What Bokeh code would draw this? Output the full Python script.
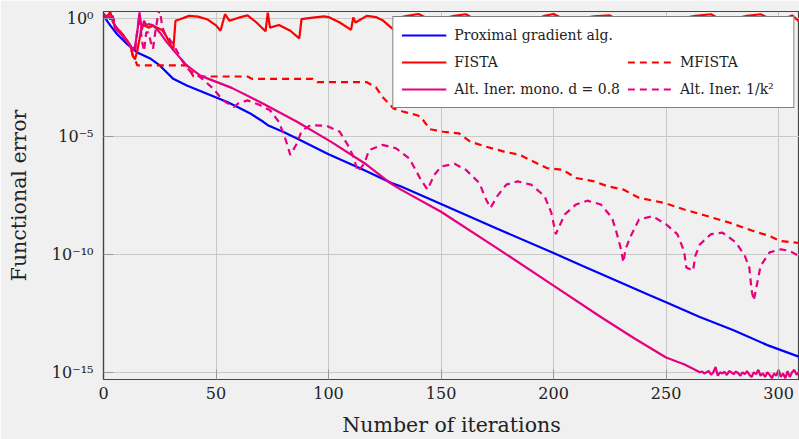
from bokeh.plotting import figure
from bokeh.models import (Range1d, FixedTicker, CustomJSTickFormatter, Legend, LegendItem)
from bokeh.embed import file_html
from bokeh.resources import INLINE

# ---------------- data ----------------
iters_prox = [0, 3, 6, 10, 15, 21, 25, 31, 37, 46, 55, 60, 65, 71, 73, 80, 86, 100, 115, 128, 132,
              150, 175, 200, 213, 228, 243, 250, 265, 280, 295, 309]
err_prox = [1.26, 0.5, 0.214, 0.089, 0.0355, 0.019, 0.01, 2.7e-3, 1.41e-3, 6.3e-4, 2.8e-4, 1.66e-4,
            9.5e-5, 4.1e-5, 2.95e-5, 1.51e-5, 8.1e-6, 1.74e-6, 4.0e-7, 1.05e-7, 7.6e-8, 1.35e-8,
            1.2e-9, 1.12e-10, 3.2e-11, 7.6e-12, 1.78e-12, 9.3e-13, 2.2e-13, 6.0e-14, 1.41e-14, 4.6e-15]

iters_fista = [0, 1, 2, 3, 4, 5, 7, 9, 12, 13, 14, 15, 16, 17, 18, 20, 22, 26, 28, 31, 32, 34, 38,
               42, 46, 50, 52, 54, 56, 61, 64, 68, 72, 73, 74, 78, 83, 87, 88, 93, 98, 100, 105,
               110, 111, 112, 117, 121, 124, 129, 130, 135, 140, 146, 150, 151, 156, 161, 167, 172,
               173, 180, 186, 190, 191, 196, 200, 206, 211, 212, 218, 225, 231, 236, 237, 245, 252,
               256, 257, 263, 270, 275, 280, 281, 286, 292, 298, 302, 303, 306, 309]
err_fista = [1.58, 1.0, 1.26, 1.9, 0.79, 0.5, 0.295, 0.18, 0.069, 0.026, 0.018, 0.042, 0.13, 0.45,
             0.5, 0.4, 0.48, 0.32, 0.166, 0.045, 0.78, 0.91, 1.26, 1.17, 0.91, 0.5, 0.295, 1.48,
             0.78, 1.12, 1.32, 0.66, 0.28, 1.74, 0.4, 0.52, 0.295, 0.141, 0.91, 1.07, 1.2, 1.12,
             0.66, 0.32, 1.07, 0.66, 1.26, 1.12, 0.83, 0.32, 1.0, 1.26, 1.51, 0.79, 0.25, 1.0, 1.26,
             1.48, 0.71, 0.28, 1.0, 1.12, 0.5, 0.2, 0.79, 1.26, 1.51, 0.79, 0.25, 1.0, 1.2, 1.32,
             0.63, 0.22, 1.0, 1.12, 0.5, 0.2, 1.0, 1.26, 1.48, 0.79, 0.25, 1.0, 1.26, 1.48, 0.79,
             0.32, 1.0, 1.32, 0.76]

iters_mfista = [0, 1, 4, 5, 7, 9, 12, 13, 14, 15, 37, 40, 64, 66, 93, 95, 117, 121, 124, 129, 133,
                139, 141, 145, 151, 158, 163, 170, 178, 185, 191, 197, 204, 210, 218, 224, 231, 238,
                249, 258, 267, 278, 289, 296, 301, 309]
err_mfista = [1.58, 1.0, 0.79, 0.5, 0.295, 0.18, 0.069, 0.026, 0.018, 0.01, 0.01, 3.4e-3, 3.4e-3,
              2.7e-3, 2.7e-3, 1.95e-3, 1.95e-3, 1.2e-3, 4.6e-4, 1.48e-4, 1.12e-4, 7.9e-5, 6.6e-5,
              2.0e-5, 1.55e-5, 1.32e-5, 5.9e-6, 3.6e-6, 2.24e-6, 1.62e-6, 8.5e-7, 4.5e-7, 3.8e-7,
              1.7e-7, 1.23e-7, 7.6e-8, 5.5e-8, 2.45e-8, 1.51e-8, 7.9e-9, 4.5e-9, 2.2e-9, 9.5e-10,
              5.9e-10, 3.6e-10, 3.0e-10]

iters_mono = [0, 1, 2, 3, 4, 5, 8, 11, 13, 14, 15, 16, 17, 18, 19, 20, 22, 25, 28, 32, 37, 43, 57,
              71, 86, 101, 116, 127, 132, 150, 175, 200, 221, 236, 250, 255, 258, 262, 265, 266,
              267, 268, 269, 270, 271, 272, 273, 274, 275, 276, 277, 278, 279, 280, 281, 282, 283,
              284, 285, 286, 287, 288, 289, 290, 291, 292, 293, 294, 295, 296, 297, 298, 299, 300,
              301, 302, 303, 304, 305, 306, 307, 308, 309]
err_mono = [1.58, 1.12, 1.41, 0.89, 1.26, 0.4, 0.2, 0.089, 0.05, 0.063, 0.25, 1.78, 0.32, 0.79, 0.5,
            0.56, 0.5, 0.25, 0.1, 0.035, 0.01, 3.7e-3, 1.12e-3, 2.4e-4, 4.1e-5, 5.9e-6, 7.2e-7,
            1.1e-7, 5.6e-8, 6.3e-9, 1.78e-10, 4.7e-12, 2.2e-13, 2.7e-14, 4.2e-15, 2.8e-15, 2.2e-15,
            1.41e-15, 1.0e-15, 1.07e-15, 8.9e-16, 1.0e-15, 1.12e-15, 7.9e-16, 1.0e-15, 1.66e-15,
            7.1e-16, 1.0e-15, 8.9e-16, 1.05e-15, 7.6e-16, 1.12e-15, 1.0e-15, 8.3e-16, 1.07e-15,
            9.3e-16, 7.1e-16, 1.0e-15, 8.3e-16, 1.12e-15, 7.9e-16, 6.3e-16, 1.0e-15, 8.3e-16,
            1.26e-15, 7.1e-16, 8.9e-16, 6.3e-16, 1.0e-15, 7.9e-16, 5.6e-16, 8.9e-16, 7.1e-16,
            1.26e-15, 6.3e-16, 8.9e-16, 5.6e-16, 1.12e-15, 6.3e-16, 1.0e-15, 1.26e-15, 7.9e-16,
            1.0e-15]

iters_k2 = [0, 2, 4, 6, 9, 12, 14, 15, 16, 17, 18, 19, 20, 21, 22, 23, 24, 25, 26, 27, 31, 35, 38,
            43, 49, 53, 58, 60, 64, 69, 74, 78, 81, 83, 86, 88, 92, 99, 105, 109, 111, 113, 116,
            118, 124, 130, 136, 141, 144, 147, 150, 156, 161, 167, 170, 172, 175, 179, 184, 190,
            196, 199, 201, 203, 205, 210, 215, 221, 226, 228, 230, 231, 232, 234, 238, 244, 250,
            255, 258, 259, 262, 263, 265, 270, 275, 281, 285, 287, 288, 289, 290, 292, 296, 301,
            305, 309]
err_k2 = [1.58, 0.89, 1.26, 0.32, 0.16, 0.063, 0.035, 0.32, 1.26, 0.126, 0.04, 0.25, 0.25, 0.1,
          0.05, 0.25, 1.0, 2.5, 0.5, 0.25, 0.079, 0.0158, 6.3e-3, 3.2e-3, 1.0e-3, 3.3e-4, 1.74e-4,
          2.5e-4, 3.3e-4, 2.2e-4, 1.26e-4, 4.0e-5, 6.9e-6, 1.62e-6, 5.0e-6, 1.66e-5, 2.95e-5,
          2.8e-5, 1.55e-5, 3.6e-6, 1.38e-6, 3.2e-7, 7.2e-7, 2.6e-6, 4.3e-6, 3.1e-6, 1.12e-6,
          1.45e-7, 5.5e-8, 2.3e-7, 5.2e-7, 6.8e-7, 3.8e-7, 1.05e-7, 2.1e-8, 9.3e-9, 2.9e-8, 8.9e-8,
          1.23e-7, 8.9e-8, 2.9e-8, 5.8e-9, 7.1e-10, 1.86e-9, 4.9e-9, 1.29e-8, 1.86e-8, 1.29e-8,
          3.5e-9, 8.3e-10, 1.62e-10, 4.5e-11, 1.62e-10, 5.1e-10, 3.0e-9, 4.1e-9, 1.86e-9, 7.1e-10,
          1.38e-10, 2.75e-11, 2.0e-11, 8.5e-11, 2.6e-10, 7.1e-10, 8.3e-10, 3.2e-10, 8.5e-11,
          2.75e-11, 3.0e-12, 1.1e-12, 3.4e-12, 3.2e-11, 1.2e-10, 1.62e-10, 1.38e-10, 8.5e-11]

x_ticks = [0, 50, 100, 150, 200, 250, 300]
y_ticks = [1e-15, 1e-10, 1e-5, 1.0]

labels = ["Proximal gradient alg.", "FISTA", "MFISTA",
          "Alt. Iner. mono. d = 0.8", "Alt. Iner. 1/k\u00b2"]

# ---------------- styling ----------------
BG = "#f0f0f0"
FONT = "DejaVu Serif"
BLUE, RED, MAG = "#0000ff", "#ff0000", "#e6007e"
AXC = "#444444"

p = figure(width=799, height=439, y_axis_type="log",
           x_range=Range1d(0, 309.3), y_range=Range1d(4.93e-16, 1.93),
           output_backend="svg", toolbar_location=None,
           min_border_left=103, min_border_right=0, min_border_top=11, min_border_bottom=58,
           background_fill_color=BG, border_fill_color=BG)
p.outline_line_color = AXC
p.outline_line_width = 1.2

sup_js = """
const e = Math.round(Math.log10(tick));
const sup = {"-":"\u207b","0":"\u2070","1":"\u00b9","2":"\u00b2","3":"\u00b3","4":"\u2074",
             "5":"\u2075","6":"\u2076","7":"\u2077","8":"\u2078","9":"\u2079"};
return "10" + String(e).split("").map(c => sup[c]).join("");
"""

xa = p.xaxis[0]
xa.ticker = FixedTicker(ticks=x_ticks)
ya = p.yaxis[0]
ya.ticker = FixedTicker(ticks=y_ticks)
ya.formatter = CustomJSTickFormatter(code=sup_js)

for ax in (xa, ya):
    ax.axis_line_color = AXC
    ax.axis_line_width = 1.2
    ax.major_tick_in = 10
    ax.major_tick_out = 0
    ax.major_tick_line_color = "#999999"
    ax.minor_tick_line_color = None
    ax.major_label_text_font = FONT
    ax.major_label_text_font_size = "16px"
    ax.major_label_text_color = "#222222"
    ax.axis_label_text_font = FONT
    ax.axis_label_text_font_size = "20.5px"
    ax.axis_label_text_font_style = "normal"
    ax.axis_label_text_color = "#222222"

xa.axis_label = "Number of iterations"
xa.major_label_standoff = 7
xa.axis_label_standoff = 11
ya.axis_label = "Functional error"
ya.major_label_standoff = 10
ya.axis_label_standoff = 18

p.xgrid.grid_line_color = "#c8c8c8"
p.ygrid.grid_line_color = "#c8c8c8"
p.xgrid.ticker = FixedTicker(ticks=x_ticks)
p.ygrid.ticker = FixedTicker(ticks=y_ticks)

# ---------------- curves ----------------
LW = 2.2
r_prox = p.line(iters_prox, err_prox, line_color=BLUE, line_width=LW)
r_fista = p.line(iters_fista, err_fista, line_color=RED, line_width=LW)
r_mfista = p.line(iters_mfista, err_mfista, line_color=RED, line_width=LW, line_dash="7 5")
r_mono = p.line(iters_mono, err_mono, line_color=MAG, line_width=LW)
r_k2 = p.line(iters_k2, err_k2, line_color=MAG, line_width=LW, line_dash="7 5")
# invisible placeholder that keeps the first legend row to one entry
r_blank = p.line(iters_prox[:2], err_prox[:2], line_alpha=0)

legend = Legend(items=[
    LegendItem(label=labels[0], renderers=[r_prox]),
    LegendItem(label=labels[1], renderers=[r_fista]),
    LegendItem(label=labels[3], renderers=[r_mono]),
    LegendItem(label="\u00a0", renderers=[r_blank]),
    LegendItem(label=labels[2], renderers=[r_mfista]),
    LegendItem(label=labels[4], renderers=[r_k2]),
], ncols=2)
legend.location = "top_right"
legend.margin = 5
legend.padding = 8
legend.spacing = 7
legend.glyph_width = 45
legend.glyph_height = 20
legend.label_height = 20
legend.label_width = 105
legend.label_standoff = 8
legend.label_text_font = FONT
legend.label_text_font_size = "14px"
legend.label_text_color = "#222222"
legend.border_line_color = "black"
legend.border_line_width = 1
legend.background_fill_color = "white"
legend.background_fill_alpha = 1.0
p.add_layout(legend, "center")

html = file_html(p, INLINE)
html = html.replace("<body>", '<body style="background-color:%s;">' % BG, 1)
open("out.html", "w").write(html)
